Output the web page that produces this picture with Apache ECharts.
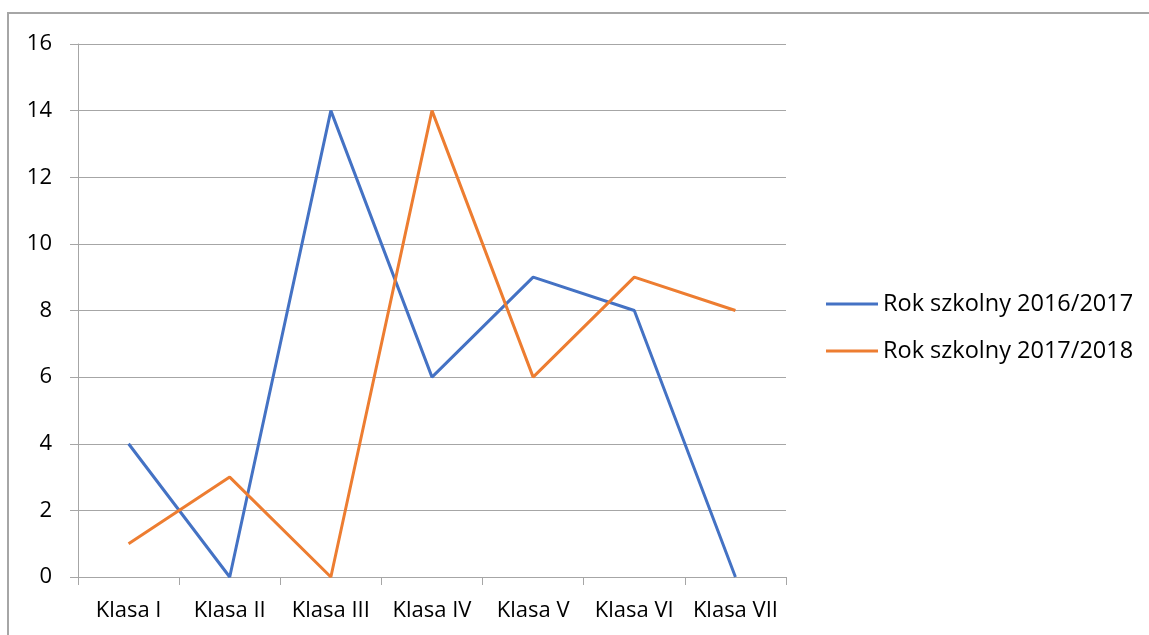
<!DOCTYPE html>
<html>
<head>
<meta charset="utf-8">
<style>
  html, body { margin: 0; padding: 0; background: #fff; }
  #chart { width: 1149px; height: 635px; }
</style>
<script src="https://cdn.jsdelivr.net/npm/echarts@6/dist/echarts.min.js"></script>
</head>
<body>
<div id="chart"></div>
<script>
const categories = ["Klasa I", "Klasa II", "Klasa III", "Klasa IV", "Klasa V", "Klasa VI", "Klasa VII"];
const seriesNames = ["Rok szkolny 2016/2017", "Rok szkolny 2017/2018"];
const values2016 = [4, 0, 14, 6, 9, 8, 0];
const values2017 = [1, 3, 0, 14, 6, 9, 8];

const font = "'Open Sans', 'Noto Sans', sans-serif";
const gridColor = "#a6a6a6";

const chart = echarts.init(document.getElementById("chart"));
chart.setOption({
  animation: false,
  textStyle: { fontFamily: font, color: "#000" },
  graphic: [
    {
      type: "rect",
      shape: { x: 8, y: 13, width: 1300, height: 800 },
      style: { fill: "none", stroke: "#a6a6a6", lineWidth: 2 },
      silent: true
    }
  ],
  grid: { left: 78, right: 363, top: 44, bottom: 58 },
  legend: {
    orient: "vertical",
    left: 821,
    top: 287,
    icon: "rect",
    itemWidth: 52,
    itemHeight: 3,
    itemGap: 23,
    textStyle: { fontFamily: font, fontSize: 23.5, lineHeight: 24, color: "#000" },
    data: seriesNames
  },
  xAxis: {
    type: "category",
    data: categories,
    boundaryGap: true,
    axisLine: { lineStyle: { color: gridColor, width: 1 } },
    axisTick: { show: true, length: 8, lineStyle: { color: gridColor } },
    axisLabel: { fontFamily: font, fontSize: 22, color: "#000", margin: 23, interval: 0 }
  },
  yAxis: {
    type: "value",
    min: 0,
    max: 16,
    interval: 2,
    axisLine: { show: true, lineStyle: { color: gridColor, width: 1 } },
    axisTick: { show: true, length: 8, lineStyle: { color: gridColor } },
    splitLine: { lineStyle: { color: gridColor, width: 1 } },
    axisLabel: { fontFamily: font, fontSize: 22, color: "#000", margin: 26 }
  },
  series: [
    {
      name: seriesNames[0],
      type: "line",
      data: values2016,
      showSymbol: false,
      color: "#4472C4",
      lineStyle: { width: 3, color: "#4472C4" }
    },
    {
      name: seriesNames[1],
      type: "line",
      data: values2017,
      showSymbol: false,
      color: "#ED7D31",
      lineStyle: { width: 3, color: "#ED7D31" }
    }
  ]
});
</script>
</body>
</html>
